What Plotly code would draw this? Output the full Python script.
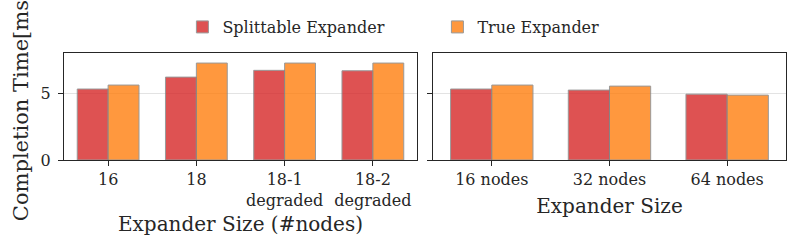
import plotly.graph_objects as go

series_names = ["Splittable Expander", "True Expander"]
series_colors = ["#d62728", "#ff7f0e"]

left_categories = ["16", "18", "18-1<br>degraded", "18-2<br>degraded"]
left_splittable = [5.36, 6.26, 6.77, 6.74]
left_true = [5.66, 7.32, 7.32, 7.32]

right_categories = ["16 nodes", "32 nodes", "64 nodes"]
right_splittable = [5.36, 5.28, 4.97]
right_true = [5.66, 5.58, 4.90]

y_ticks = [0, 5]
y_max = 8.08

FONT = "DejaVu Serif"
fig = go.Figure()

left_vals = [left_splittable, left_true]
right_vals = [right_splittable, right_true]
for i, name in enumerate(series_names):
    fig.add_trace(go.Bar(
        x=left_categories, y=left_vals[i], name=name,
        marker=dict(color=series_colors[i], line=dict(color="#808080", width=1)),
        opacity=0.8, xaxis="x", yaxis="y", legendgroup=name, showlegend=True,
    ))
    fig.add_trace(go.Bar(
        x=right_categories, y=right_vals[i], name=name,
        marker=dict(color=series_colors[i], line=dict(color="#808080", width=1)),
        opacity=0.8, xaxis="x2", yaxis="y2", legendgroup=name, showlegend=False,
    ))

axis_common = dict(showline=True, linecolor="#262626", linewidth=1.3, mirror=True,
                   ticks="outside", tickcolor="#262626", ticklen=5, tickwidth=1.2,
                   tickfont=dict(family=FONT, size=16, color="#262626"))

fig.update_layout(
    width=797, height=250,
    margin=dict(l=64, r=11, t=53, b=90, autoexpand=False),
    paper_bgcolor="white", plot_bgcolor="white",
    barmode="group", bargap=0.3, bargroupgap=0,
    font=dict(family=FONT, size=16, color="#262626"),
    xaxis=dict(domain=[0, 0.4889], anchor="y", showgrid=False,
               title=dict(text="Expander Size (#nodes)", font=dict(family=FONT, size=20), standoff=7),
               **axis_common),
    xaxis2=dict(domain=[0.511, 1], anchor="y2", showgrid=False,
                title=dict(text="Expander Size", font=dict(family=FONT, size=20), standoff=10),
                **axis_common),
    yaxis=dict(domain=[0, 1], anchor="x", range=[0, y_max], tickvals=y_ticks,
               showgrid=True, gridcolor="#e3e3e3", gridwidth=1, zeroline=False,
               ticklabelstandoff=4,
               title=dict(text="Completion Time[ms]", font=dict(family=FONT, size=21), standoff=6),
               **axis_common),
    yaxis2=dict(domain=[0, 1], anchor="x2", matches="y", range=[0, y_max], tickvals=y_ticks,
                showticklabels=False, showgrid=True, gridcolor="#e3e3e3", gridwidth=1, zeroline=False,
                **axis_common),
    legend=dict(orientation="h", x=0.164, xanchor="left", y=1.084, yanchor="bottom",
                font=dict(family=FONT, size=16), entrywidth=210, entrywidthmode="pixels",
                bgcolor="rgba(0,0,0,0)", traceorder="normal"),
)

fig.write_html("out.html", config={"displayModeBar": False},
               post_script="document.body.style.margin='0';")
